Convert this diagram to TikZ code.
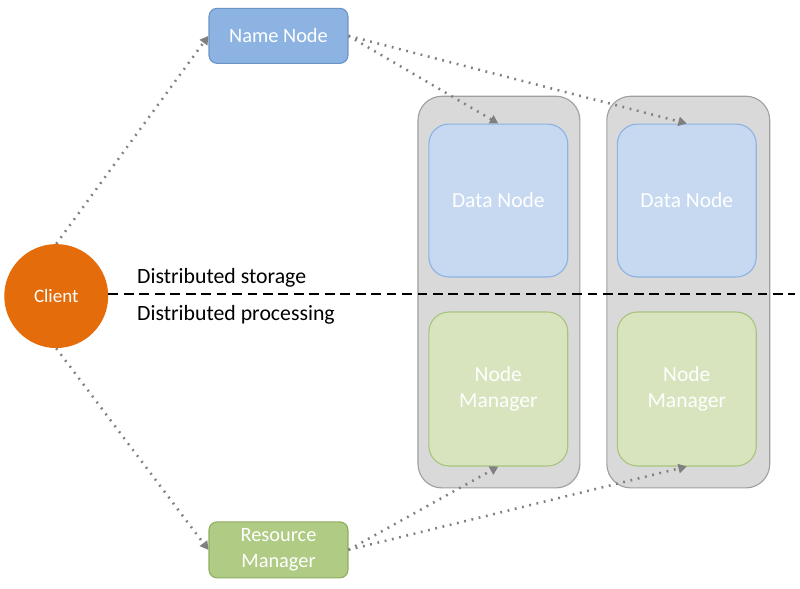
\documentclass[tikz,border=0pt]{standalone}
\usepackage{fontspec}
\setmainfont{Carlito}
\usepackage{tikz}
\usetikzlibrary{calc,shapes,arrows.meta,positioning}

\definecolor{nnblue}{HTML}{8DB3E2}
\definecolor{nnedge}{HTML}{6A93C6}
\definecolor{dnblue}{HTML}{C6D9F1}
\definecolor{dnedge}{HTML}{8DB3E2}
\definecolor{nmgreen}{HTML}{D7E4BD}
\definecolor{nmedge}{HTML}{A9C47F}
\definecolor{rmgreen}{HTML}{AFCB84}
\definecolor{rmedge}{HTML}{8EAE5E}
\definecolor{clorange}{HTML}{E46C0A}
\definecolor{rackgray}{HTML}{D9D9D9}
\definecolor{rackedge}{HTML}{A0A0A0}

\tikzset{
  txt/.style={font=\fontsize{15.5}{18}\selectfont},
  master/.style={draw,line width=0.8pt,rounded corners=0.2cm,minimum width=3.475cm,minimum height=1.375cm,text=white,align=center,font=\fontsize{14.5}{18.5}\selectfont},
  worker/.style={draw,line width=0.8pt,rounded corners=0.5cm,minimum width=3.475cm,minimum height=3.85cm,text=white,align=center,font=\fontsize{15.3}{18.5}\selectfont},
  rack/.style={draw=rackedge,fill=rackgray,line width=0.8pt,rounded corners=0.6cm},
  call/.style={gray,line width=1.8pt,dash pattern=on 1.3pt off 4pt,-{Triangle[length=6pt,width=6.5pt]}}
}

\begin{document}
\begin{tikzpicture}

    \draw[white] (0,0) rectangle (20,14.7);

    % racks
    \draw[rack] (10.45,2.5) rectangle (14.5,12.3);
    \draw[rack] (15.175,2.5) rectangle (19.25,12.3);

    % masters and client
    \node (nn) at (6.96,13.81) [master,fill=nnblue,draw=nnedge] {Name Node};
    \node (rm) at (6.96,0.95) [master,fill=rmgreen,draw=rmedge,minimum height=1.4cm] {Resource\\Manager};
    \node (cl) at (1.4,7.3) [circle,fill=clorange,minimum size=2.6cm,text=white,font=\fontsize{13.5}{15}\selectfont] {Client};

    % workers
    \node (dn1) at (12.46,9.69) [worker,fill=dnblue,draw=dnedge,minimum height=3.825cm] {Data Node};
    \node (nm1) at (12.46,4.975) [worker,fill=nmgreen,draw=nmedge] {Node\\Manager};
    \node (dn2) at (17.175,9.69) [worker,fill=dnblue,draw=dnedge,minimum height=3.825cm] {Data Node};
    \node (nm2) at (17.175,4.975) [worker,fill=nmgreen,draw=nmedge] {Node\\Manager};

    % storage / processing split
    \coordinate (far) at (19.875,7.35);
    \draw[line width=1.5pt,dash pattern=on 7pt off 4pt] (cl.east |- far) -- (far);
    \node (st) at (3.3,7.75) [anchor=west,txt] {Distributed storage};
    \node (pr) at (3.3,6.825) [anchor=west,txt] {Distributed processing};

    % calls
    \draw[call] (cl.north) -- (nn.west);
    \draw[call] (cl.south) -- (rm.west);
    \draw[call] (nn.east) -- (dn1.north);
    \draw[call] (nn.east) -- (dn2.north);
    \draw[call] (rm.east) -- (nm1.south);
    \draw[call] (rm.east) -- (nm2.south);

\end{tikzpicture}
\end{document}
